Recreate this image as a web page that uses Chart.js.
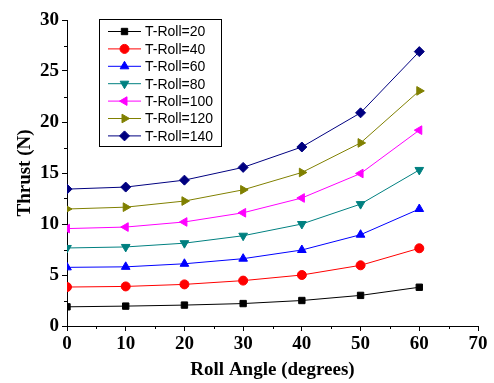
<!DOCTYPE html>
<html>
<head>
<meta charset="utf-8">
<script src="https://cdn.jsdelivr.net/npm/chart.js@4.4.0/dist/chart.umd.min.js"></script>
<style>
  html, body { margin: 0; padding: 0; background: #fff; }
  #wrap { width: 494px; height: 383px; }
</style>
</head>
<body>
<div id="wrap"><canvas id="thrustChart"></canvas></div>
<script>
// Roll angle (degrees)
const angles = [0, 10, 20, 30, 40, 50, 60];

// Thrust (N) for each T-Roll
const tRoll20  = [1.88, 1.95, 2.05, 2.2, 2.5, 3.0, 3.8];
const tRoll40  = [3.82, 3.88, 4.08, 4.45, 5.0, 5.95, 7.62];
const tRoll60  = [5.75, 5.8, 6.1, 6.6, 7.45, 8.95, 11.47];
const tRoll80  = [7.65, 7.75, 8.12, 8.85, 10.0, 11.95, 15.3];
const tRoll100 = [9.55, 9.7, 10.2, 11.1, 12.55, 14.95, 19.2];
const tRoll120 = [11.47, 11.65, 12.25, 13.35, 15.05, 17.95, 23.05];
const tRoll140 = [13.42, 13.62, 14.3, 15.55, 17.55, 20.9, 26.9];

const seriesLabels = ['T-Roll=20', 'T-Roll=40', 'T-Roll=60', 'T-Roll=80', 'T-Roll=100', 'T-Roll=120', 'T-Roll=140'];
const seriesValues = [tRoll20, tRoll40, tRoll60, tRoll80, tRoll100, tRoll120, tRoll140];

const yTicks = [0, 5, 10, 15, 20, 25, 30];
const xTicks = [0, 10, 20, 30, 40, 50, 60, 70];
const yMinor = [2.5, 7.5, 12.5, 17.5, 22.5, 27.5];
const xMinor = [5, 15, 25, 35, 45, 55, 65];

const colors = ['#000000', '#ff0000', '#0000ff', '#008080', '#ff00ff', '#808000', '#000080'];
const markers = [
    { style: 'rect', rot: 0, r: 4.5 },
    { style: 'circle', rot: 0, r: 4.5 },
    { style: 'triangle', rot: 0, r: 5 },
    { style: 'triangle', rot: 180, r: 5 },
    { style: 'triangle', rot: -90, r: 5 },
    { style: 'triangle', rot: 90, r: 5 },
    { style: 'rectRot', rot: 0, r: 5 }
];

const datasets = seriesValues.map((vals, i) => ({
    label: seriesLabels[i],
    data: vals.map((v, j) => ({ x: angles[j], y: v })),
    borderColor: colors[i],
    backgroundColor: colors[i],
    borderWidth: 1,
    pointStyle: markers[i].style,
    rotation: markers[i].rot,
    pointRadius: markers[i].r,
    pointBorderWidth: 1,
    tension: 0
}));

// minor ticks between the labelled ones
const minorTicks = {
    id: 'minorTicks',
    afterDraw(chart) {
        const ctx = chart.ctx;
        const xs = chart.scales.x, ys = chart.scales.y;
        ctx.save();
        ctx.strokeStyle = '#000';
        ctx.lineWidth = 1;
        ctx.beginPath();
        xMinor.forEach(v => {
            const px = Math.round(xs.getPixelForValue(v)) + 0.5;
            ctx.moveTo(px, xs.top);
            ctx.lineTo(px, xs.top + 3);
        });
        yMinor.forEach(v => {
            const py = Math.round(ys.getPixelForValue(v)) + 0.5;
            ctx.moveTo(ys.right, py);
            ctx.lineTo(ys.right - 3, py);
        });
        ctx.stroke();
        ctx.restore();
    }
};

// legend box drawn inside the plot, like the original
const boxLegend = {
    id: 'boxLegend',
    afterDraw(chart) {
        const ctx = chart.ctx;
        const x0 = 99, y0 = 19, w = 122, h = 127;
        ctx.save();
        ctx.strokeStyle = '#000';
        ctx.lineWidth = 1;
        ctx.strokeRect(x0 + 0.5, y0 + 0.5, w, h);
        ctx.font = '14px "Liberation Sans", Arial, sans-serif';
        ctx.textBaseline = 'middle';
        chart.data.datasets.forEach((ds, i) => {
            const y = 31.5 + i * 17.4;
            ctx.strokeStyle = ds.borderColor;
            ctx.lineWidth = 1;
            ctx.beginPath();
            ctx.moveTo(108, y);
            ctx.lineTo(141, y);
            ctx.stroke();
            ctx.fillStyle = ds.backgroundColor;
            Chart.helpers.drawPoint(ctx, { pointStyle: ds.pointStyle, rotation: ds.rotation, radius: ds.pointRadius, borderWidth: 1 }, 124.5, y);
            ctx.fillStyle = '#000';
            ctx.fillText(ds.label, 145, y + 1);
        });
        ctx.restore();
    }
};

const tickFont = { family: '"Liberation Serif", "Times New Roman", serif', size: 19, weight: 'bold' };

new Chart(document.getElementById('thrustChart').getContext('2d'), {
    type: 'line',
    data: { datasets: datasets },
    options: {
        responsive: true,
        maintainAspectRatio: false,
        animation: false,
        layout: { padding: { top: 20, right: 16, left: 0, bottom: 0 } },
        plugins: {
            legend: { display: false },
            tooltip: { enabled: false }
        },
        scales: {
            x: {
                type: 'linear',
                min: 0,
                max: 70,
                afterBuildTicks: s => { s.ticks = xTicks.map(v => ({ value: v })); },
                afterFit: s => { s.height = 57; },
                grid: { drawOnChartArea: false, tickLength: 5, color: '#000' },
                border: { color: '#000', width: 1 },
                ticks: { color: '#000', font: tickFont, padding: 2, maxRotation: 0 },
                title: {
                    display: true,
                    text: 'Roll Angle (degrees)',
                    color: '#000',
                    font: { family: '"Liberation Serif", "Times New Roman", serif', size: 19, weight: 'bold' },
                    padding: { top: 0, bottom: 2 }
                }
            },
            y: {
                min: 0,
                max: 30,
                afterBuildTicks: s => { s.ticks = yTicks.map(v => ({ value: v })); },
                afterFit: s => { s.width = 67; },
                grid: { drawOnChartArea: false, tickLength: 5, color: '#000' },
                border: { color: '#000', width: 1 },
                ticks: { color: '#000', font: tickFont, padding: 3 },
                title: {
                    display: true,
                    text: 'Thrust (N)',
                    color: '#000',
                    font: { family: '"Liberation Serif", "Times New Roman", serif', size: 19, weight: 'bold' },
                    padding: { top: 14, bottom: 0 }
                }
            }
        }
    },
    plugins: [minorTicks, boxLegend]
});
</script>
</body>
</html>
